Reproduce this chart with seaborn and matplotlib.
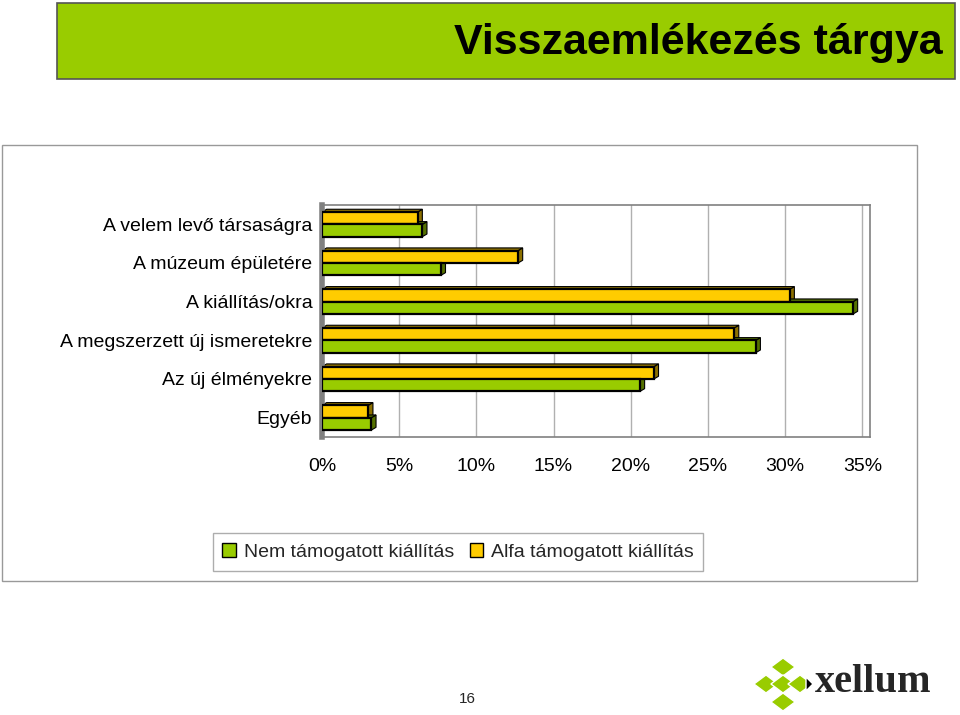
import matplotlib
matplotlib.use("Agg")
import matplotlib.pyplot as plt
import matplotlib.patches as mpatches
import matplotlib.colors as mcolors
import pandas as pd
import seaborn as sns

# Adatok (%)
kategoriak = ["A velem levő társaságra", "A múzeum épületére", "A kiállítás/okra",
              "A megszerzett új ismeretekre", "Az új élményekre", "Egyéb"]
nem_tamogatott = [6.5, 7.7, 34.4, 28.1, 20.6, 3.2]
alfa_tamogatott = [6.2, 12.7, 30.3, 26.7, 21.5, 3.0]
sorozatok = ["Nem támogatott kiállítás", "Alfa támogatott kiállítás"]
xtick_labels = ["0%", "5%", "10%", "15%", "20%", "25%", "30%", "35%"]

zold = "#99CC00"
sarga = "#FFCC00"

df = pd.DataFrame({
    "Kategória": kategoriak * 2,
    "Érték": nem_tamogatott + alfa_tamogatott,
    "Sorozat": [sorozatok[0]] * len(kategoriak) + [sorozatok[1]] * len(kategoriak),
})

sns.set_style("white")
plt.rcParams["font.family"] = ["Liberation Sans", "DejaVu Sans"]

fig = plt.figure(figsize=(9.6, 7.15), dpi=100)

# Cím sáv
fig.patches.append(mpatches.Rectangle((57 / 960, 1 - 79 / 715), 898 / 960, 76 / 715,
                                      transform=fig.transFigure, facecolor=zold,
                                      edgecolor="#555555", linewidth=1.2, zorder=-5))
fig.text(943 / 960, 1 - 43 / 715, "Visszaemlékezés tárgya", ha="right", va="center",
         fontsize=31, fontweight="bold", color="black")

# Diagram keret
fig.patches.append(mpatches.Rectangle((2 / 960, 1 - 581 / 715), 915 / 960, 436 / 715,
                                      transform=fig.transFigure, facecolor="white",
                                      edgecolor="#999999", linewidth=1, zorder=-5))

ax = fig.add_axes([322 / 960, 1 - 437 / 715, 548 / 960, 232 / 715])
ax.set_zorder(5)
sns.barplot(data=df, y="Kategória", x="Érték", hue="Sorozat",
            hue_order=[sorozatok[1], sorozatok[0]],
            palette={sorozatok[0]: zold, sorozatok[1]: sarga}, saturation=1,
            order=kategoriak, orient="h", width=0.64, edgecolor="black",
            linewidth=1.6, ax=ax, legend=False, zorder=3)

# 3D hatás: sötét oldallap és tető a sávokhoz
for p in list(ax.patches):
    x0, y0 = p.get_x(), p.get_y()
    w, h = p.get_width(), p.get_height()
    rgb = mcolors.to_rgb(p.get_facecolor())
    sotet = tuple(c * 0.55 for c in rgb)
    dx, dy = 0.3, 0.07
    side = mpatches.Polygon([(x0 + w, y0), (x0 + w + dx, y0 - dy), (x0 + w + dx, y0 + h - dy),
                             (x0 + w, y0 + h)], closed=True, facecolor=sotet,
                            edgecolor="black", linewidth=0.8, zorder=2)
    top = mpatches.Polygon([(x0, y0), (x0 + dx, y0 - dy), (x0 + w + dx, y0 - dy), (x0 + w, y0)],
                           closed=True, facecolor=sotet, edgecolor="black",
                           linewidth=0.8, zorder=2)
    ax.add_patch(side)
    ax.add_patch(top)

ax.set_xlim(0, 35.5)
ax.set_xticks(range(0, 36, 5))
ax.set_xticklabels(xtick_labels, fontsize=14)
ax.set_xlabel("")
ax.set_ylabel("")
ax.tick_params(axis="y", labelsize=14, length=4, color="#808080", pad=3, labelcolor="black")
ax.tick_params(axis="x", length=4, color="#808080", pad=11, labelcolor="black")
ax.xaxis.grid(True, color="#b0b0b0", linewidth=1)
ax.set_axisbelow(True)
for s in ax.spines.values():
    s.set_color("#808080")
    s.set_linewidth(1.2)
ax.spines["left"].set_linewidth(4)

# Jelmagyarázat
handles = [mpatches.Patch(facecolor=zold, edgecolor="black", label=sorozatok[0]),
           mpatches.Patch(facecolor=sarga, edgecolor="black", label=sorozatok[1])]
fig.legend(handles=handles, loc="center", bbox_to_anchor=(458 / 960, 1 - 552 / 715),
           ncol=2, frameon=True, fancybox=False, edgecolor="#999999", fontsize=14,
           handlelength=0.7, handleheight=0.7, handletextpad=0.4, columnspacing=0.8,
           borderpad=0.5)

# Oldalszám
fig.text(467 / 960, 1 - 699 / 715, "16", ha="center", va="center", fontsize=11)

# Logó
for cx, cy in [(783, 667), (766, 684), (783, 684), (800, 684), (783, 702)]:
    fig.patches.append(mpatches.RegularPolygon((cx / 960, 1 - cy / 715), 4, radius=9 / 715,
                                               transform=fig.transFigure, facecolor=zold,
                                               edgecolor="white", linewidth=1))
fig.patches.append(mpatches.Polygon([(806 / 960, 1 - 677 / 715), (813 / 960, 1 - 684 / 715),
                                     (806 / 960, 1 - 691 / 715)], closed=True,
                                    transform=fig.transFigure, facecolor="black"))
fig.text(815 / 960, 1 - 683 / 715, "xellum", ha="left", va="center", fontsize=29,
         fontweight="bold", family=["Liberation Serif", "DejaVu Serif"])

fig.savefig("out.png", dpi=100)
